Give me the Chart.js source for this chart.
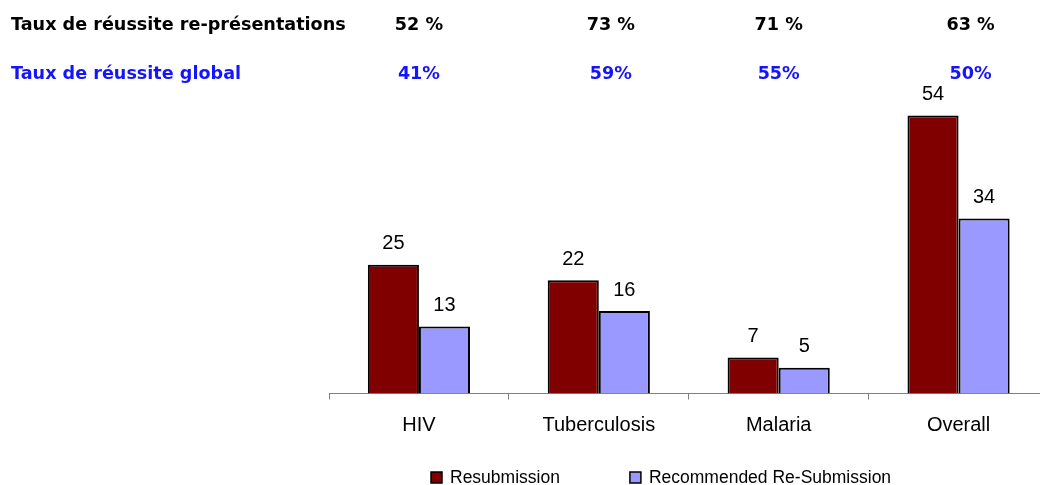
<!DOCTYPE html>
<html>
<head>
<meta charset="utf-8">
<script src="https://cdn.jsdelivr.net/npm/chart.js@4.4.1/dist/chart.umd.min.js"></script>
<style>
  html, body { margin: 0; padding: 0; background: #fff; overflow: hidden; }
  #wrap { position: relative; width: 1040px; height: 485px; overflow: hidden; }
  #box { position: absolute; left: 0; top: 0; width: 1060px; height: 485px; }
</style>
</head>
<body>
<div id="wrap"><div id="box"><canvas id="c"></canvas></div></div>
<script>
// Categories and series
const categories = ['HIV', 'Tuberculosis', 'Malaria', 'Overall'];
const resubmission = [25, 22, 7, 54];
const recommended = [13, 16, 5, 34];
const seriesNames = ['Resubmission', 'Recommended Re-Submission'];

// Success-rate rows printed above the bars
const rowLabels = ['Taux de réussite re-présentations', 'Taux de réussite global'];
const rateResubmission = ['52 %', '73 %', '71 %', '63 %'];
const rateOverall = ['41%', '59%', '55%', '50%'];

const COLORS = ['#800000', '#9999ff'];
const SANS = '"Liberation Sans", Arial, sans-serif';

const annotate = {
  id: 'annotate',
  afterDatasetsDraw(chart) {
    const ctx = chart.ctx;
    ctx.save();

    // value above each bar
    ctx.font = '20px ' + SANS;
    ctx.fillStyle = '#000';
    ctx.textAlign = 'center';
    ctx.textBaseline = 'middle';
    chart.data.datasets.forEach((ds, di) => {
      chart.getDatasetMeta(di).data.forEach((bar, i) => {
        ctx.fillText(String(ds.data[i]), bar.x, bar.y - 21);
      });
    });

    // rate rows
    const xs = chart.scales.x;
    const colShift = [0, 12, 0, 12];
    const rows = [
      { label: rowLabels[0], vals: rateResubmission, color: '#000000', y: 25.5 },
      { label: rowLabels[1], vals: rateOverall, color: '#1414ff', y: 74.5 }
    ];
    ctx.font = 'bold 17.6px "DejaVu Sans", sans-serif';
    rows.forEach(r => {
      ctx.fillStyle = r.color;
      ctx.textAlign = 'left';
      ctx.fillText(r.label, 11, r.y);
      ctx.textAlign = 'center';
      r.vals.forEach((v, i) => ctx.fillText(v, xs.getPixelForValue(i) + colShift[i], r.y));
    });

    // legend
    ctx.font = '17.5px ' + SANS;
    ctx.textAlign = 'left';
    ctx.textBaseline = 'middle';
    let lx = 431;
    const ly = 478;
    const boxSize = 11;
    chart.data.datasets.forEach((ds, di) => {
      ctx.fillStyle = ds.backgroundColor;
      ctx.fillRect(lx, ly - boxSize / 2 - 0.5, boxSize, boxSize);
      ctx.strokeStyle = '#000';
      ctx.lineWidth = 1.5;
      ctx.strokeRect(lx, ly - boxSize / 2 - 0.5, boxSize, boxSize);
      ctx.fillStyle = '#000';
      ctx.fillText(ds.label, lx + boxSize + 8, ly);
      lx += boxSize + 8 + ctx.measureText(ds.label).width + 70;
    });

    ctx.restore();
  }
};

new Chart(document.getElementById('c'), {
  type: 'bar',
  data: {
    labels: categories,
    datasets: [
      { label: seriesNames[0], data: resubmission, backgroundColor: COLORS[0], borderColor: '#000', borderWidth: 2 },
      { label: seriesNames[1], data: recommended, backgroundColor: COLORS[1], borderColor: '#000', borderWidth: 2 }
    ]
  },
  options: {
    responsive: true,
    maintainAspectRatio: false,
    animation: false,
    layout: { padding: { left: 329, right: 11.5, top: 84.5, bottom: 34.5 } },
    datasets: { bar: { categoryPercentage: 0.568, barPercentage: 1 } },
    plugins: { legend: { display: false }, tooltip: { enabled: false } },
    scales: {
      x: {
        grid: { display: true, drawOnChartArea: false, drawTicks: true, tickLength: 6, color: '#808080', offset: true },
        border: { display: true, color: '#808080', width: 1 },
        ticks: { color: '#000', font: { family: SANS, size: 20 }, padding: 13.5 }
      },
      y: {
        display: false,
        min: 0,
        max: 60
      }
    }
  },
  plugins: [annotate]
});
</script>
</body>
</html>
